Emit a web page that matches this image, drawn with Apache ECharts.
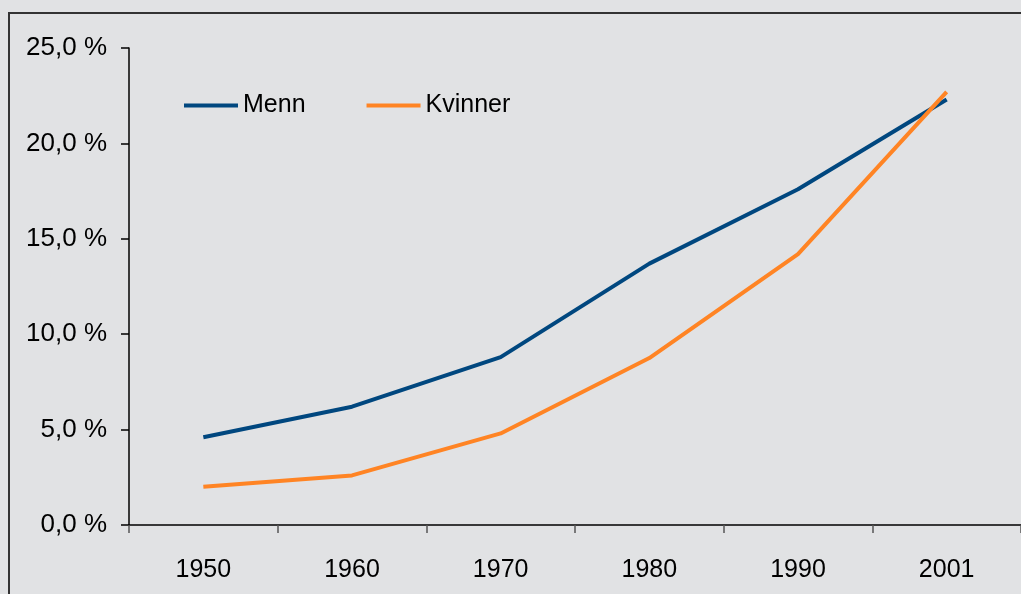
<!DOCTYPE html>
<html>
<head>
<meta charset="utf-8">
<script src="https://cdn.jsdelivr.net/npm/echarts@6/dist/echarts.min.js"></script>
<style>
  html, body { margin: 0; padding: 0; background: #e1e2e4; }
  #chart { width: 1021px; height: 594px; }
</style>
</head>
<body>
<div id="chart"></div>
<script>
// år og andeler (prosent)
const years = ['1950', '1960', '1970', '1980', '1990', '2001']
const menn = [4.6, 6.2, 8.8, 13.7, 17.6, 22.3]
const kvinner = [2.0, 2.6, 4.8, 8.75, 14.2, 22.7]

const fontFamily = 'Liberation Sans, Arial, sans-serif'
const myChart = echarts.init(document.getElementById('chart'))

myChart.setOption({
    backgroundColor: '#e1e2e4',
    animation: false,
    textStyle: { fontFamily: fontFamily },
    graphic: [
        {
            type: 'rect',
            shape: { x: 9, y: 13, width: 1030, height: 600 },
            style: { fill: 'none', stroke: '#333', lineWidth: 2 },
            silent: true
        }
    ],
    legend: {
        left: 179,
        top: 88,
        icon: 'rect',
        itemWidth: 54,
        itemHeight: 4,
        itemGap: 61,
        textStyle: { fontSize: 25, color: '#000', fontFamily: fontFamily },
        data: ['Menn', 'Kvinner']
    },
    grid: {
        left: 129,
        right: -2,
        top: 48,
        bottom: 69
    },
    xAxis: {
        type: 'category',
        data: years,
        boundaryGap: true,
        axisLine: { lineStyle: { color: '#000', width: 1.5 } },
        axisTick: { show: true, length: 8, lineStyle: { color: '#555', width: 1.5 } },
        axisLabel: { color: '#000', fontSize: 25, margin: 33, fontFamily: fontFamily },
        splitLine: { show: false }
    },
    yAxis: {
        type: 'value',
        min: 0,
        max: 25,
        interval: 5,
        axisLine: { show: true, lineStyle: { color: '#000', width: 1.5 } },
        axisTick: { show: true, length: 8, lineStyle: { color: '#000', width: 1.5 } },
        axisLabel: {
            color: '#000',
            fontSize: 26,
            margin: 22,
            fontFamily: fontFamily,
            formatter: v => v.toFixed(1).replace('.', ',') + ' %'
        },
        splitLine: { show: false }
    },
    series: [
        {
            name: 'Menn',
            type: 'line',
            data: menn,
            symbol: 'none',
            itemStyle: { color: '#00477f' },
            lineStyle: { color: '#00477f', width: 4 }
        },
        {
            name: 'Kvinner',
            type: 'line',
            data: kvinner,
            symbol: 'none',
            itemStyle: { color: '#ff8424' },
            lineStyle: { color: '#ff8424', width: 4 }
        }
    ]
})
</script>
</body>
</html>
